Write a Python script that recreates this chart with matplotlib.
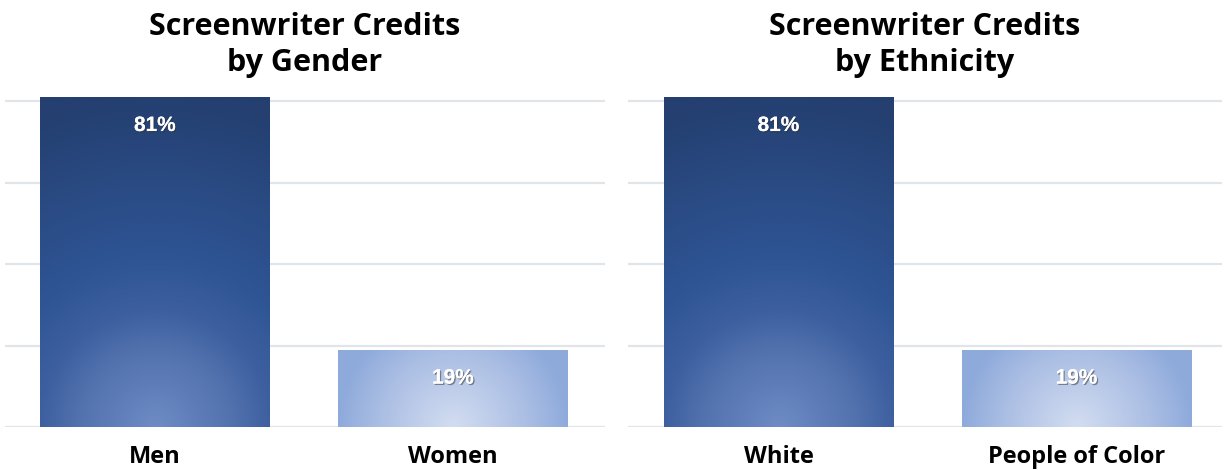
import numpy as np
import matplotlib.pyplot as plt
import matplotlib.patheffects as pe
from matplotlib.colors import LinearSegmentedColormap

# data
titles = ['Screenwriter Credits\nby Gender', 'Screenwriter Credits\nby Ethnicity']
categories = [['Men', 'Women'], ['White', 'People of Color']]
shares = [[81, 19], [81, 19]]

dark_cmap = LinearSegmentedColormap.from_list(
    'dark', [(0, '#6e8bc5'), (0.23, '#5272ae'), (0.35, '#3d5f9f'),
             (0.5, '#2f5595'), (1.0, '#243f70')])
light_cmap = LinearSegmentedColormap.from_list(
    'light', [(0, '#d3ddf1'), (0.66, '#a9bde3'), (1.0, '#8eaadb')])

fig = plt.figure(figsize=(12.25, 4.7), dpi=100)
W, H = 1225, 470
# axes placement in pixels: (left, right, xmin, xmax)
spans = [(5, 605, -0.503, 1.51), (628, 1222, -0.505, 1.488)]
base_y, top_y = 427, 97

axes = []
for (x0, x1, lo, hi) in spans:
    ax = fig.add_axes([x0 / W, (H - base_y) / H, (x1 - x0) / W, (base_y - top_y) / H])
    ax.set_xlim(lo, hi)
    ax.set_ylim(0, 81)
    axes.append(ax)

for ax, title, cats, vals in zip(axes, titles, categories, shares):
    for s in ax.spines.values():
        s.set_visible(False)
    ax.set_yticks([0, 20, 40, 60, 80])
    ax.set_yticklabels([])
    ax.tick_params(axis='y', length=0)
    ax.yaxis.grid(True, color='#e1e4e9', linewidth=1.6, zorder=0)
    ax.set_axisbelow(True)
    ax.set_xticks(range(len(cats)))
    ax.set_xticklabels(cats, fontsize=17, fontweight='bold', family='Open Sans')
    ax.tick_params(axis='x', length=0, pad=13)

    bars = ax.bar(range(len(cats)), vals, width=0.77, color='none', zorder=2)
    for b, v in zip(bars, vals):
        # pixel size of the bar
        (px0, py0) = ax.transData.transform((b.get_x(), 0))
        (px1, py1) = ax.transData.transform((b.get_x() + b.get_width(), b.get_height()))
        wpx, hpx = int(px1 - px0), int(py1 - py0)
        xx, yy = np.meshgrid(np.arange(wpx) - wpx / 2, np.arange(hpx))
        if v > 50:
            r = np.hypot(xx, yy) / 330.0
            cmap = dark_cmap
        else:
            r = np.hypot(xx, yy) / 115.0
            cmap = light_cmap
        img = ax.imshow(np.clip(r, 0, 1), cmap=cmap, vmin=0, vmax=1, origin='lower',
                        extent=(b.get_x(), b.get_x() + b.get_width(), 0, b.get_height()),
                        aspect='auto', zorder=2, interpolation='bilinear')
        img.set_clip_path(b)
        t = ax.text(b.get_x() + b.get_width() / 2, v - 7, f'{v}%', ha='center', va='center',
                    color='white', fontsize=15, fontweight='bold',
                    family=['Liberation Sans', 'DejaVu Sans'], zorder=3)
        t.set_path_effects([pe.withSimplePatchShadow(offset=(1, -1), shadow_rgbFace='#333333', alpha=0.5),
                            pe.Normal()])
    ax.set_ylim(0, 81)

for (x0, x1, lo, hi), title in zip(spans, titles):
    fig.text((x0 + x1) / 2 / W, 1 - 45 / H, title, ha='center', va='center',
             fontsize=22, fontweight='bold', family='Open Sans', linespacing=1.28)

fig.savefig('out.png', dpi=100)
